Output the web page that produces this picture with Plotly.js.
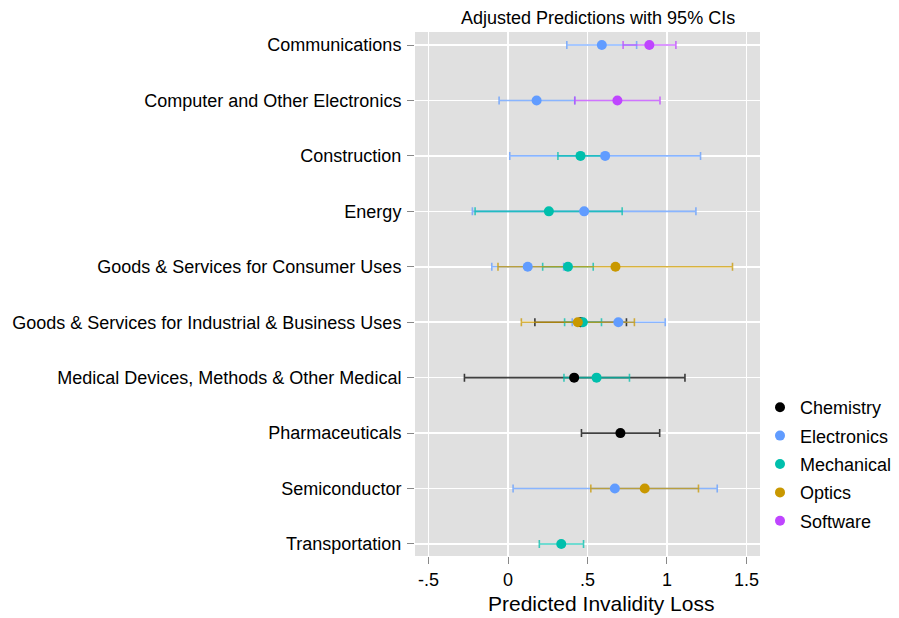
<!DOCTYPE html>
<html>
<head>
<meta charset="utf-8">
<script src="https://cdn.plot.ly/plotly-3.0.1.min.js"></script>
<style>
  html, body { margin: 0; padding: 0; background: #fff; }
  #chart { width: 899px; height: 618px; }
</style>
</head>
<body>
<div id="chart"></div>
<script>
// Industry categories, top to bottom
const industries = [
  "Communications",
  "Computer and Other Electronics",
  "Construction",
  "Energy",
  "Goods & Services for Consumer Uses",
  "Goods & Services for Industrial & Business Uses",
  "Medical Devices, Methods & Other Medical",
  "Pharmaceuticals",
  "Semiconductor",
  "Transportation"
];

// Technology groups and their colours
const groups = ["Chemistry", "Electronics", "Mechanical", "Optics", "Software"];
const groupColors = ["#000000", "#619CFF", "#00BFAC", "#C99800", "#BF45FF"];

// Predicted values with 95% CI bounds (null = no estimate for that industry)
const chemistryPred = [null, null, null, null, null, 0.457, 0.416, 0.707, null, null];
const chemistryLow  = [null, null, null, null, null, 0.169, -0.274, 0.462, null, null];
const chemistryHigh = [null, null, null, null, null, 0.745, 1.113, 0.954, null, null];

const electronicsPred = [0.590, 0.180, 0.611, 0.479, 0.124, 0.694, null, null, 0.672, null];
const electronicsLow  = [0.370, -0.056, 0.011, -0.224, -0.102, 0.404, null, null, 0.032, null];
const electronicsHigh = [0.809, 0.420, 1.211, 1.182, 0.350, 0.989, null, null, 1.316, null];

const mechanicalPred = [null, null, 0.456, 0.257, 0.377, 0.471, 0.557, null, null, 0.335];
const mechanicalLow  = [null, null, 0.314, -0.207, 0.218, 0.356, 0.352, null, null, 0.197];
const mechanicalHigh = [null, null, 0.598, 0.718, 0.536, 0.588, 0.764, null, null, 0.475];

const opticsPred = [null, null, null, null, 0.676, 0.439, null, null, 0.860, null];
const opticsLow  = [null, null, null, null, -0.063, 0.084, null, null, 0.521, null];
const opticsHigh = [null, null, null, null, 1.412, 0.795, null, null, 1.198, null];

const softwarePred = [0.889, 0.688, null, null, null, null, null, null, null, null];
const softwareLow  = [0.724, 0.420, null, null, null, null, null, null, null, null];
const softwareHigh = [1.056, 0.956, null, null, null, null, null, null, null, null];

const xTickVals = [-0.5, 0, 0.5, 1, 1.5];
const xTickText = ["-.5", "0", ".5", "1", "1.5"];

const series = [
  [chemistryPred, chemistryLow, chemistryHigh],
  [electronicsPred, electronicsLow, electronicsHigh],
  [mechanicalPred, mechanicalLow, mechanicalHigh],
  [opticsPred, opticsLow, opticsHigh],
  [softwarePred, softwareLow, softwareHigh]
];

function hexToRgba(hex, a) {
  const n = parseInt(hex.slice(1), 16);
  return `rgba(${(n >> 16) & 255},${(n >> 8) & 255},${n & 255},${a})`;
}

const yIdx = industries.map((_, i) => i);
const traces = [];

// Confidence-interval bars first, so every point sits above every line
series.forEach(([pred, low, high], g) => {
  traces.push({
    type: "scatter",
    mode: "markers",
    x: pred,
    y: yIdx,
    marker: { color: "rgba(0,0,0,0)", size: 1 },
    error_x: {
      type: "data",
      symmetric: false,
      array: pred.map((p, i) => p === null ? null : high[i] - p),
      arrayminus: pred.map((p, i) => p === null ? null : p - low[i]),
      color: hexToRgba(groupColors[g], 0.75),
      thickness: 1.6,
      width: 4
    },
    showlegend: false,
    hoverinfo: "skip"
  });
});

// Point estimates
series.forEach(([pred], g) => {
  traces.push({
    type: "scatter",
    mode: "markers",
    name: groups[g],
    x: pred,
    y: yIdx,
    marker: { color: groupColors[g], size: 10 },
    legendgroup: groups[g]
  });
});

const fontFam = "'Liberation Sans', Arial, Helvetica, sans-serif";

const layout = {
  width: 899,
  height: 618,
  paper_bgcolor: "#ffffff",
  plot_bgcolor: "#E0E0E0",
  margin: { l: 415, r: 138, t: 32, b: 62 },
  font: { family: fontFam, size: 18, color: "#000" },
  showlegend: true,
  legend: {
    xref: "container", yref: "container",
    x: 760 / 899, xanchor: "left",
    y: 1 - 464 / 618, yanchor: "middle",
    font: { family: fontFam, size: 18, color: "#000" },
    traceorder: "grouped",
    tracegroupgap: 2,
    itemwidth: 30,
    bgcolor: "rgba(0,0,0,0)"
  },
  xaxis: {
    range: [-0.585, 1.585],
    tickvals: xTickVals,
    ticktext: xTickText,
    ticks: "outside",
    ticklen: 7,
    tickwidth: 1,
    tickcolor: "#888",
    showgrid: true,
    gridcolor: "#ffffff",
    gridwidth: 1.5,
    zeroline: false,
    showline: false,
    automargin: false,
    tickfont: { family: fontFam, size: 18, color: "#000" }
  },
  yaxis: {
    range: [9.217, -0.235],
    tickvals: yIdx,
    ticktext: industries,
    ticks: "outside",
    ticklen: 7,
    tickwidth: 1,
    tickcolor: "#888",
    ticklabelstandoff: 2,
    showgrid: true,
    gridcolor: "#ffffff",
    gridwidth: 1.5,
    zeroline: false,
    showline: false,
    automargin: false,
    tickfont: { family: fontFam, size: 18, color: "#000" }
  },
  annotations: [
    {
      text: "Adjusted Predictions with 95% CIs",
      xref: "paper", yref: "paper",
      x: (599 - 415) / 346, y: 1,
      xanchor: "center", yanchor: "bottom", yshift: 2,
      showarrow: false,
      font: { family: fontFam, size: 18, color: "#000" }
    },
    {
      text: "Predicted Invalidity Loss",
      xref: "paper", yref: "paper",
      x: (602 - 415) / 346, y: 0,
      xanchor: "center", yanchor: "top", yshift: -34,
      showarrow: false,
      font: { family: fontFam, size: 21, color: "#000" }
    }
  ]
};

Plotly.newPlot("chart", traces, layout, { displayModeBar: false, staticPlot: true });
</script>
</body>
</html>
